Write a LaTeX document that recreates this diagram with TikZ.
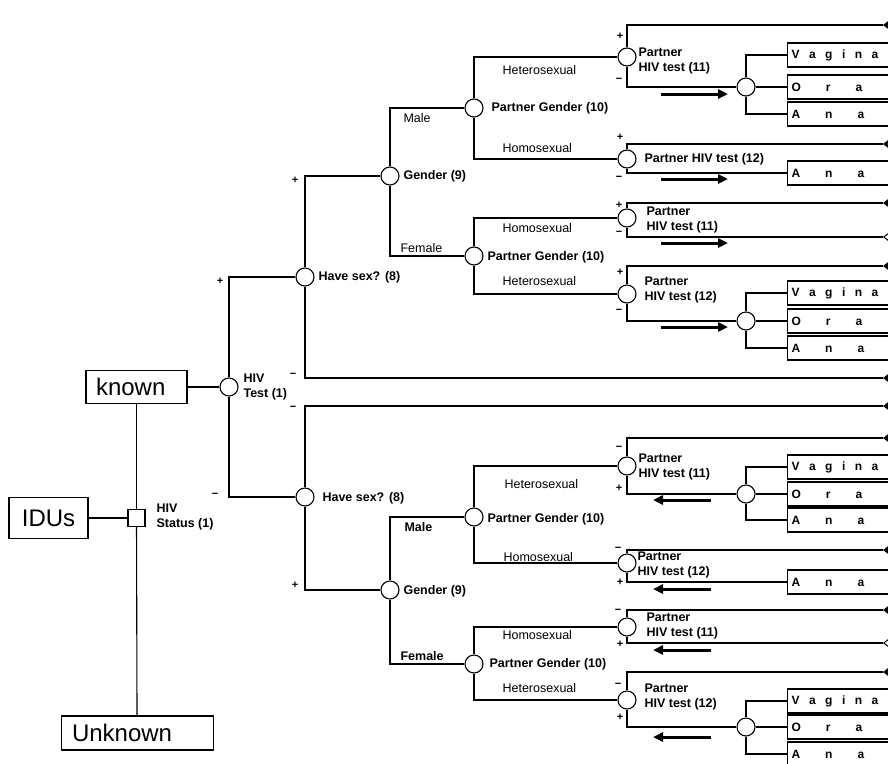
\documentclass[tikz,border=0pt]{standalone}
\usepackage{fontspec}
\setmainfont{Liberation Sans}
\usetikzlibrary{shapes.geometric,arrows.meta}

\begin{document}
\begin{tikzpicture}
   [
   x=1pt, y=-1pt, line width=1.1pt,
   decision/.style={circle, draw=black, fill=white, minimum size=18, inner sep=0},
   statusbox/.style={rectangle, draw=black, fill=white, minimum size=17, inner sep=0},
   bigbox/.style={rectangle, draw=black, inner ysep=0, align=left, font=\fontsize{24}{24}\selectfont},
   leafbox/.style={rectangle, draw=black, anchor=west, minimum height=24, text width=120, align=left, inner xsep=4, inner ysep=0, font=\bfseries\fontsize{12}{12}\selectfont},
   vagbox/.style={leafbox, execute at begin node={\spaceskip=9.5pt\relax}},
   widebox/.style={leafbox, execute at begin node={\spaceskip=25pt\relax}},
   endfull/.style={diamond, draw=black, fill=black, line width=0.8pt, minimum width=17, minimum height=13, inner sep=0},
   endopen/.style={diamond, draw=black, fill=white, line width=1pt, minimum width=17, minimum height=13, inner sep=0},
   boldtext/.style={anchor=west, inner sep=0, align=left, font=\bfseries\fontsize{12.5}{15}\selectfont},
   plaintext/.style={anchor=west, inner sep=0, font=\fontsize{12.5}{15}\selectfont},
   signtext/.style={inner sep=0, font=\bfseries\fontsize{11}{11}\selectfont},
   fatarrow/.style={line width=3pt, -{Triangle[length=10pt, width=9pt]}},
   ]
 \useasboundingbox (0,0) rectangle (888,763);
 \clip (0,0) rectangle (888,763);
 % root of the tree
 \node at (48.5,518) [bigbox, minimum width=79, minimum height=41] (idus) {IDUs};
 \node at (136.5,387) [bigbox, text width=81, inner xsep=10, minimum height=33] (known) {known};
 \node at (60.5,733) [bigbox, anchor=west, text width=130, inner xsep=11, minimum height=34] (unknown) {Unknown};
 \node at (136.5,518) [statusbox] (status) {};
 \node at (156,517) [boldtext] (statuslab) {HIV\\Status (1)};
 \node at (229,387) [decision] (hivtest) {};
 \node at (243,387) [boldtext] (hivtestlab) {HIV\\Test (1)};
 % have sex
 \node at (305,277) [decision] (sexup) {};
 \node at (318,277) [boldtext] (sexuplab) {Have sex? (8)};
 \node at (305,497) [decision] (sexdn) {};
 \node at (322,498) [boldtext] (sexdnlab) {Have sex? (8)};
 % gender
 \node at (390,176) [decision] (genup) {};
 \node at (403,176) [boldtext] (genuplab) {Gender (9)};
 \node at (390,590) [decision] (gendn) {};
 \node at (403,591) [boldtext] (gendnlab) {Gender (9)};
 \node at (403,118) [plaintext] (male1) {Male};
 \node at (400,248) [plaintext] (female1) {Female};
 \node at (404,527) [boldtext] (male2) {Male};
 \node at (400,656) [boldtext] (female2) {Female};
 % partner gender
 \node at (474,108) [decision] (pg1) {};
 \node at (491,108) [boldtext] (pg1lab) {Partner Gender (10)};
 \node at (474,256) [decision] (pg2) {};
 \node at (487,257) [boldtext] (pg2lab) {Partner Gender (10)};
 \node at (474,517) [decision] (pg3) {};
 \node at (487,519) [boldtext] (pg3lab) {Partner Gender (10)};
 \node at (474,664) [decision] (pg4) {};
 \node at (489,664) [boldtext] (pg4lab) {Partner Gender (10)};
 \node at (502,70) [plaintext] (het1) {Heterosexual};
 \node at (502,148) [plaintext] (hom1) {Homosexual};
 \node at (502,228) [plaintext] (hom2) {Homosexual};
 \node at (502,281) [plaintext] (het2) {Heterosexual};
 \node at (504,484) [plaintext] (het3) {Heterosexual};
 \node at (503,557) [plaintext] (hom3) {Homosexual};
 \node at (502,635) [plaintext] (hom4) {Homosexual};
 \node at (502,688) [plaintext] (het4) {Heterosexual};
 % partner hiv test
 \node at (627,57) [decision] (pt1) {};
 \node at (638,60.5) [boldtext] (pt1lab) {Partner\\HIV test (11)};
 \node at (627,159) [decision] (pt2) {};
 \node at (644,159) [boldtext] (pt2lab) {Partner HIV test (12)};
 \node at (627,218) [decision] (pt3) {};
 \node at (646,219.5) [boldtext] (pt3lab) {Partner\\HIV test (11)};
 \node at (627,294) [decision] (pt4) {};
 \node at (644,289.5) [boldtext] (pt4lab) {Partner\\HIV test (12)};
 \node at (627,466) [decision] (pt5) {};
 \node at (638,466.5) [boldtext] (pt5lab) {Partner\\HIV test (11)};
 \node at (627,563) [decision] (pt6) {};
 \node at (637,565) [boldtext] (pt6lab) {Partner\\HIV test (12)};
 \node at (627,627) [decision] (pt7) {};
 \node at (646,625.5) [boldtext] (pt7lab) {Partner\\HIV test (11)};
 \node at (627,700) [decision] (pt8) {};
 \node at (644,697) [boldtext] (pt8lab) {Partner\\HIV test (12)};
 % sex modes
 \node at (746,87) [decision] (mode1) {};
 \node at (787,55) [vagbox] (vag1) {V a g i n a};
 \node at (787,87) [widebox] (oral1) {O r a};
 \node at (787,114) [widebox] (anal1) {A n a};
 \node at (787,173) [widebox] (anal2) {A n a};
 \node at (746,321) [decision] (mode2) {};
 \node at (787,293) [vagbox] (vag2) {V a g i n a};
 \node at (787,321) [widebox] (oral2) {O r a};
 \node at (787,348) [widebox] (anal3) {A n a};
 \node at (746,494) [decision] (mode3) {};
 \node at (787,467) [vagbox] (vag3) {V a g i n a};
 \node at (787,494) [widebox] (oral3) {O r a};
 \node at (787,520) [widebox] (anal4) {A n a};
 \node at (787,582) [widebox] (anal5) {A n a};
 \node at (746,727) [decision] (mode4) {};
 \node at (787,701) [vagbox] (vag4) {V a g i n a};
 \node at (787,727) [widebox] (oral4) {O r a};
 \node at (787,754) [widebox] (anal6) {A n a};
 % end points
 \foreach \y [count=\i] in {25,144,203,266,378,406,438,550,610,672}
   \node at (892,\y) [endfull] (end\i) {};
 \node at (892,237) [endopen] (open1) {};
 \node at (892,643) [endopen] (open2) {};

 \draw (idus) -- (status);
 \draw (known) -- (status);
 \draw (status) -- (unknown);
 \draw (known) -- (hivtest);
 \draw (hivtest) |- (sexup);
 \draw (hivtest) |- (sexdn);
 \draw (sexup) |- (genup);
 \draw (sexup) |- (end5);
 \draw (sexdn) |- (end6);
 \draw (sexdn) |- (gendn);
 \draw (genup) |- (pg1);
 \draw (genup) |- (pg2);
 \draw (gendn) |- (pg3);
 \draw (gendn) |- (pg4);
 \draw (pg1) |- (pt1);
 \draw (pg1) |- (pt2);
 \draw (pg2) |- (pt3);
 \draw (pg2) |- (pt4);
 \draw (pg3) |- (pt5);
 \draw (pg3) |- (pt6);
 \draw (pg4) |- (pt7);
 \draw (pg4) |- (pt8);
 \draw (pt1) |- (end1);
 \draw (pt1) |- (mode1);
 \draw (pt2) |- (end2);
 \draw (pt2) |- (anal2);
 \draw (pt3) |- (end3);
 \draw (pt3) |- (open1);
 \draw (pt4) |- (end4);
 \draw (pt4) |- (mode2);
 \draw (pt5) |- (end7);
 \draw (pt5) |- (mode3);
 \draw (pt6) |- (end8);
 \draw (pt6) |- (anal5);
 \draw (pt7) |- (end9);
 \draw (pt7) |- (open2);
 \draw (pt8) |- (end10);
 \draw (pt8) |- (mode4);
 \draw (mode1) |- (vag1);
 \draw (mode1) -- (oral1);
 \draw (mode1) |- (anal1);
 \draw (mode2) |- (vag2);
 \draw (mode2) -- (oral2);
 \draw (mode2) |- (anal3);
 \draw (mode3) |- (vag3);
 \draw (mode3) -- (oral3);
 \draw (mode3) |- (anal4);
 \draw (mode4) |- (vag4);
 \draw (mode4) -- (oral4);
 \draw (mode4) |- (anal6);
 % signs
 \foreach \x/\y/\s [count=\i] in {220/281/+, 215/495/−, 295/180/+, 293/375/−, 293/408/−, 295/585/+,
     620/36/+, 619/80/−, 620/137/+, 619/178/−, 619/205/+, 619/233/−, 620/272/+, 619/311/−,
     619/448/−, 619/488/+, 618/549/−, 620/582/+, 618/611/−, 620/644/+, 618/685/−, 620/717/+}
   \node at (\x,\y) [signtext] (sign\i) {\s};
 % direction arrows
 \foreach \y [count=\i] in {94,179,243,327} {
   \coordinate (rs\i) at (661,\y);
   \coordinate (re\i) at (728,\y);
   \draw[fatarrow] (rs\i) -- (re\i);
 }
 \foreach \y [count=\i] in {500,589,650,737} {
   \coordinate (ls\i) at (711,\y);
   \coordinate (le\i) at (653,\y);
   \draw[fatarrow] (ls\i) -- (le\i);
 }
\end{tikzpicture}
\end{document}
